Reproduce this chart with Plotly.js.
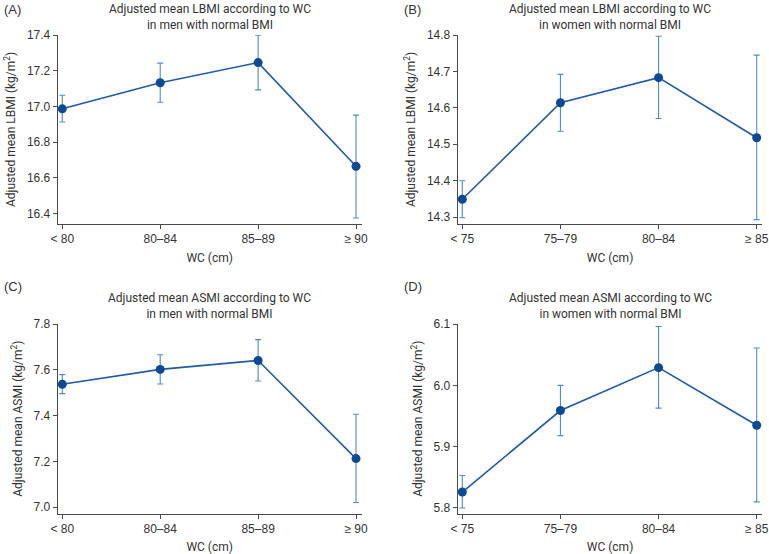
<!DOCTYPE html>
<html>
<head>
<meta charset="utf-8">
<script src="https://cdn.plot.ly/plotly-3.0.1.min.js"></script>
<style>html,body{margin:0;padding:0;background:#fff;}#chart{width:769px;height:554px;}</style>
</head>
<body>
<div id="chart"></div>
<script>
// Categories (waist circumference, cm)
const catsMen = ["< 80", "80–84", "85–89", "≥ 90"];
const catsWomen = ["< 75", "75–79", "80–84", "≥ 85"];

// (A) LBMI, men
const lbmiMen = [16.987, 17.133, 17.246, 16.665];
const lbmiMenUpper = [17.063, 17.243, 17.400, 16.952];
const lbmiMenLower = [16.913, 17.024, 17.093, 16.376];

// (B) LBMI, women
const lbmiWomen = [14.349, 14.614, 14.683, 14.518];
const lbmiWomenUpper = [14.400, 14.692, 14.797, 14.745];
const lbmiWomenLower = [14.298, 14.536, 14.571, 14.293];

// (C) ASMI, men
const asmiMen = [7.537, 7.602, 7.641, 7.212];
const asmiMenUpper = [7.579, 7.666, 7.732, 7.406];
const asmiMenLower = [7.496, 7.538, 7.551, 7.020];

// (D) ASMI, women
const asmiWomen = [5.826, 5.959, 6.029, 5.935];
const asmiWomenUpper = [5.853, 6.000, 6.096, 6.061];
const asmiWomenLower = [5.800, 5.918, 5.963, 5.810];

const titles = [
  "Adjusted mean LBMI according to WC<br>in men with normal BMI",
  "Adjusted mean LBMI according to WC<br>in women with normal BMI",
  "Adjusted mean ASMI according to WC<br>in men with normal BMI",
  "Adjusted mean ASMI according to WC<br>in women with normal BMI"
];
const panelLabels = ["(A)", "(B)", "(C)", "(D)"];
const yTitles = [
  "Adjusted mean LBMI (kg/m<sup>2</sup>)",
  "Adjusted mean LBMI (kg/m<sup>2</sup>)",
  "Adjusted mean ASMI (kg/m<sup>2</sup>)",
  "Adjusted mean ASMI (kg/m<sup>2</sup>)"
];

const panels = [
  {cats: catsMen, v: lbmiMen, up: lbmiMenUpper, lo: lbmiMenLower, yr: [16.342, 17.4005], dt: 0.2},
  {cats: catsWomen, v: lbmiWomen, up: lbmiWomenUpper, lo: lbmiWomenLower, yr: [14.281, 14.8003], dt: 0.1},
  {cats: catsMen, v: asmiMen, up: asmiMenUpper, lo: asmiMenLower, yr: [6.972, 7.8004], dt: 0.2},
  {cats: catsWomen, v: asmiWomen, up: asmiWomenUpper, lo: asmiWomenLower, yr: [5.791, 6.1002], dt: 0.1}
];

const xDomains = [[0.07503, 0.47035], [0.59519, 0.99142], [0.07503, 0.47035], [0.59519, 0.99142]];
const yDomains = [[0.59567, 0.93682], [0.59567, 0.93682], [0.07310, 0.41516], [0.07310, 0.41516]];

const axisColor = "#4a4a4a";
const tickFont = {family: "Arial, 'Liberation Sans', sans-serif", size: 12, color: "#333"};
const titleFont = {family: "Roboto, 'Noto Sans', sans-serif", size: 12, color: "#333"};

const data = [];
const layout = {
  width: 769, height: 554,
  margin: {l: 0, r: 0, t: 0, b: 0},
  paper_bgcolor: "#fff", plot_bgcolor: "#fff",
  showlegend: false,
  annotations: []
};

panels.forEach((p, i) => {
  const n = i + 1;
  const xa = "x" + (n === 1 ? "" : n);
  const ya = "y" + (n === 1 ? "" : n);
  data.push({
    type: "scatter", mode: "lines+markers",
    x: p.cats, y: p.v, xaxis: xa, yaxis: ya,
    line: {color: "#1f5ca8", width: 1.6},
    marker: {color: "#0c4a94", size: 9},
    error_y: {
      type: "data", symmetric: false,
      array: p.up.map((u, k) => u - p.v[k]),
      arrayminus: p.v.map((v, k) => v - p.lo[k]),
      color: "#4d8cce", thickness: 1.1, width: 3
    },
    hoverinfo: "x+y"
  });
  const xKey = "xaxis" + (n === 1 ? "" : n);
  const yKey = "yaxis" + (n === 1 ? "" : n);
  layout[xKey] = {
    domain: xDomains[i], anchor: ya, type: "category",
    range: [-0.047, 3.058],
    showline: true, linecolor: axisColor, linewidth: 1,
    ticks: "outside", ticklen: 4, tickcolor: axisColor,
    showgrid: false, zeroline: false,
    tickfont: tickFont,
    title: {text: "WC (cm)", font: titleFont, standoff: 8}
  };
  layout[yKey] = {
    domain: yDomains[i], anchor: xa,
    range: p.yr, dtick: p.dt, tick0: 0, tickformat: ".1f",
    showline: true, linecolor: axisColor, linewidth: 1,
    ticks: "outside", ticklen: 4, tickcolor: axisColor,
    showgrid: false, zeroline: false,
    tickfont: tickFont,
    title: {text: yTitles[i], font: titleFont, standoff: 8}
  };
  const xc = (xDomains[i][0] + xDomains[i][1]) / 2;
  layout.annotations.push({
    xref: "paper", yref: "paper", x: xc, y: yDomains[i][1] + 0.063,
    xanchor: "center", yanchor: "top", showarrow: false,
    text: titles[i], font: titleFont, align: "center"
  });
  layout.annotations.push({
    xref: "paper", yref: "paper",
    x: (i % 2 === 0) ? 0.002 : 0.5225,
    y: (i < 2) ? 1.0 : 0.4995,
    xanchor: "left", yanchor: "top", showarrow: false,
    text: panelLabels[i], font: {family: "Arial, 'Liberation Sans', sans-serif", size: 13, color: "#333"}
  });
});

Plotly.newPlot("chart", data, layout, {displayModeBar: false, staticPlot: true});
</script>
</body>
</html>
